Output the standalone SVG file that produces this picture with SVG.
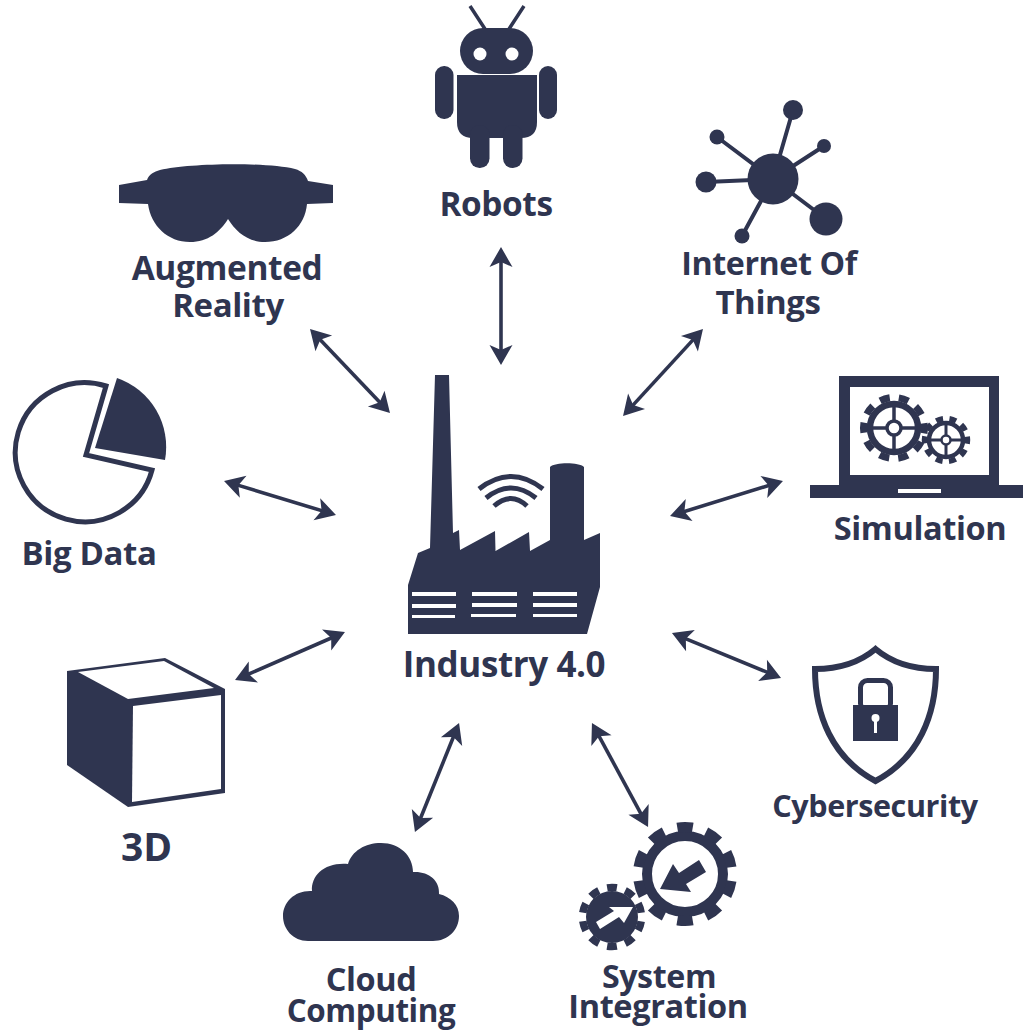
<svg xmlns="http://www.w3.org/2000/svg" width="1023" height="1032" viewBox="0 0 1023 1032">
<style>
text{font-family:"Open Sans","Noto Sans","Liberation Sans",sans-serif;font-weight:700;font-size:32px;fill:#2f3550;text-anchor:middle;letter-spacing:-.4px}
.d{fill:#2f3550}
.w{fill:#fff}
.s{fill:none;stroke:#2f3550}
.conn line{stroke:#2f3550;stroke-width:3.6;marker-start:url(#ah);marker-end:url(#ah)}
</style>
<defs>
<marker id="ah" markerUnits="userSpaceOnUse" markerWidth="24" markerHeight="26" viewBox="0 -13 24 26" refX="12" refY="0" orient="auto-start-reverse">
<path class="d" d="M2,-11.5 L22,0 L2,11.5 L7,0 Z"/>
</marker>
</defs>
<rect width="1023" height="1032" fill="#fff"/>
<g id="connectors" class="conn">
<line x1="501" y1="257" x2="501" y2="355"/>
<line x1="696.2" y1="336.4" x2="629.8" y2="408.6"/>
<line x1="773.4" y1="484" x2="679.6" y2="513"/>
<line x1="681.2" y1="636.8" x2="771.8" y2="674.2"/>
<line x1="596.7" y1="731.8" x2="643.3" y2="818.2"/>
<line x1="455.3" y1="732.3" x2="418.7" y2="822.7"/>
<line x1="335.8" y1="636" x2="244.2" y2="676"/>
<line x1="233.6" y1="483.9" x2="326.4" y2="512.1"/>
<line x1="316.9" y1="336.2" x2="383.1" y2="405.8"/>
</g>
<g id="robots">
<path class="s" stroke-width="3.500" d="M470,6 L485,29 M524,6 L509,29"/>
<rect class="d" x="460" y="28" width="73" height="46" rx="23"/>
<circle class="w" cx="480" cy="54" r="6.500"/><circle class="w" cx="512" cy="54" r="6.500"/>
<path class="d" d="M457,75 H537 V122 Q537,138 521,138 H473 Q457,138 457,122 Z"/>
<rect class="d" x="435" y="66" width="18.500" height="53" rx="9"/>
<rect class="d" x="539" y="66" width="18" height="53" rx="9"/>
<rect class="d" x="470" y="125" width="19.500" height="43" rx="9.500"/>
<rect class="d" x="503" y="125" width="19.500" height="43" rx="9.500"/>
<text x="496" y="216" style="font-size:33.4px">Robots</text>
</g>
<g id="iot">
<path class="s" stroke-width="4" d="M773,179 L793,110 M773,179 L717,137 M773,179 L824,146 M773,179 L706,182 M773,179 L826,219 M773,179 L742,236"/>
<circle class="d" cx="773" cy="179" r="25.500"/>
<circle class="d" cx="793" cy="110" r="10"/>
<circle class="d" cx="717" cy="137" r="7.500"/>
<circle class="d" cx="824" cy="146" r="7"/>
<circle class="d" cx="706" cy="182" r="10.500"/>
<circle class="d" cx="826" cy="219" r="16.500"/>
<circle class="d" cx="742" cy="236" r="7.500"/>
<text x="769" y="275" style="font-size:32.200px">Internet Of</text>
<text x="768" y="314" style="font-size:33px">Things</text>
</g>
<g id="ar">
<path class="d" d="M119,185 L147,180 C149,174 154,172 160,170 C190,163 265,162 295,169 C302,171 306,175 308,181 L333,185 L333,203 L307,204 C305,226 288,242 265,242 C248,242 236,232 228,219 C220,232 208,242 190,242 C168,242 151,226 148,204 L119,203 Z"/>
<text x="227" y="280" style="font-size:33.500px">Augmented</text>
<text x="228" y="317" style="font-size:33px">Reality</text>
</g>
<g id="simulation">
<path class="d" fill-rule="evenodd" d="M839,376 H999 V485 H1023 V498 H810 V485 H839 Z M850,387 V475 H989 V387 Z M898,489 V493 H941 V489 Z"/>
<g transform="translate(894,428)">
<circle class="s" r="24" stroke-width="6.500"/>
<circle class="s" r="30.500" stroke-width="7" pathLength="360" stroke-dasharray="19 17" transform="rotate(27)"/>
<path class="s" stroke-width="3.500" d="M-24,0 H24 M0,-24 V24"/>
<circle class="w" r="7" stroke="#2f3550" stroke-width="3.500"/>
</g>
<g transform="translate(946,440)">
<circle class="s" r="17" stroke-width="4.500"/>
<circle class="s" r="21.500" stroke-width="5.500" pathLength="360" stroke-dasharray="19 17" transform="rotate(27)"/>
<path class="s" stroke-width="3" d="M-17,0 H17 M0,-17 V17"/>
<circle class="w" r="4.500" stroke="#2f3550" stroke-width="2.500"/>
</g>
<text x="920" y="540" style="font-size:32.600px">Simulation</text>
</g>
<g id="cybersecurity">
<path class="s" stroke-width="6" d="M875.500,649 C860,662 838,669 815,669 C815,715 832,758 875.500,781 C919,758 936,715 936,669 C913,669 891,662 875.500,649 Z"/>
<rect class="s" stroke-width="5" x="860.500" y="680.500" width="30" height="30" rx="7"/>
<rect class="d" x="853" y="705" width="45" height="36"/>
<circle class="w" cx="875.500" cy="718" r="4"/>
<rect class="w" x="874" y="718" width="3" height="15"/>
<text x="875" y="817" style="font-size:30.500px">Cybersecurity</text>
</g>
<g id="system-integration">
<g transform="translate(685,874)">
<circle class="s" r="38" stroke-width="10"/>
<circle class="s" r="47" stroke-width="10" pathLength="360" stroke-dasharray="19 17" transform="rotate(8.500)"/>
</g>
<path class="d" d="M660,889 L673,864 L679,873 L699,860 L706,872 L686,884 L691,892 Z"/>
<g transform="translate(612,917)">
<circle class="d" r="26"/>
<circle class="s" r="29.500" stroke-width="7.500" pathLength="360" stroke-dasharray="19 17" transform="rotate(8.500)"/>
</g>
<path class="w" d="M633,907 L624,923 L619,917 L600,929 L596,922 L614,911 L609,907 Z"/>
<text x="659" y="988" style="font-size:32.200px">System</text>
<text x="658" y="1018" style="font-size:32.500px">Integration</text>
</g>
<g id="cloud-computing">
<path class="d" d="M308,941 C293,941 283,929 283,916 C283,902 295,890 312,891 C311,875 325,862 348,864 C352,851 365,843 381,843 C400,843 413,856 413,872 C428,871 440,880 439,894 C451,897 459,905 459,916 C459,930 448,941 433,941 Z"/>
<text x="371" y="991" style="font-size:32.500px">Cloud</text>
<text x="371" y="1022" style="font-size:31.400px">Computing</text>
</g>
<g id="three-d">
<path class="d" d="M67,671 L165,658 L225,689 V793 L128,807 L67,765 Z"/>
<path class="w" d="M78,672 L164,661 L214,688 L128,699 Z"/>
<path class="w" d="M133,706 L221,695 V789 L132,802 Z"/>
<text x="146.500" y="860.500" style="font-size:39px;letter-spacing:0">3D</text>
</g>
<g id="big-data">
<path class="s" stroke-width="5" d="M106,386 L86,455 L152,470 A69.500,69.500 0 1 1 106,386 Z"/>
<path class="d" d="M117,378 L95,448 L165,460 A73,73 0 0 0 117,378 Z"/>
<text x="89" y="565" style="font-size:33px">Big Data</text>
</g>
<g id="industry">
<path class="d" d="M435,375 H449 L453,533 L459,530 L460,550 L495,531 L495.500,551 L529,532 L530,551 L550,540 V467 C555,462 579,462 584,467 V540 L600,533 V587 L587,634 H408 V585 L418,553 L430,548 Z"/>
<path class="w" d="M412,592 H456 V596 H412 Z M412,604 H456 V608 H412 Z M412,615 H455 V618 H412 Z M472,592 H517 V596 H472 Z M472,603 H517 V607 H472 Z M471,614 H516 V617 H471 Z M533,592 H577 V596 H533 Z M533,603 H577 V607 H533 Z M533,614 H577 V617 H533 Z"/>
<path class="s" stroke-width="5" d="M479,489 Q511,464 543,489 M486,498 Q511,478 536,498 M494,506 Q511,491 527,506"/>
<text x="504" y="677" style="font-size:35px">Industry 4.0</text>
</g>
</svg>
